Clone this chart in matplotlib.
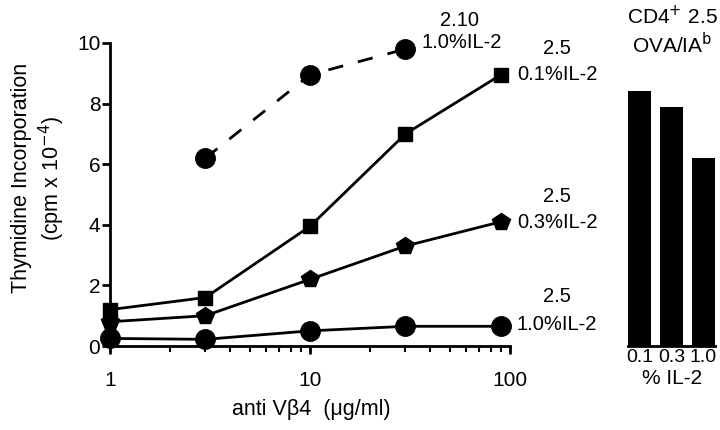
import matplotlib
matplotlib.use("Agg")
import matplotlib.pyplot as plt
from matplotlib.ticker import LogLocator, NullFormatter, FixedLocator

plt.rcParams['font.family'] = ['Liberation Sans', 'DejaVu Sans']

# data
dose = [1, 3, 10, 30, 90]
dose_210 = [3, 10, 30]
y_210_1p0 = [6.2, 8.95, 9.8]
y_25_0p1 = [1.2, 1.6, 3.95, 7.0, 8.95]
y_25_0p3 = [0.8, 1.0, 2.2, 3.3, 4.1]
y_25_1p0 = [0.25, 0.22, 0.5, 0.65, 0.65]
bar_labels = ['0.1', '0.3', '1.0']
bar_values = [8.4, 7.9, 6.2]

fig = plt.figure(figsize=(7.2, 4.3), dpi=100)
ax = fig.add_axes([110/720, 1-346/430, 400/720, 303/430])

lw = 2.0
ax.plot(dose_210, y_210_1p0, color='black', lw=lw, ls=(0, (5.5, 5.5)), marker='o', ms=14, clip_on=False)
ax.plot(dose, y_25_0p1, color='black', lw=lw, marker='s', ms=10, clip_on=False)
ax.plot(dose, y_25_0p3, color='black', lw=lw, marker='p', ms=13, clip_on=False)
ax.plot(dose, y_25_1p0, color='black', lw=lw, marker='o', ms=14, clip_on=False)

ax.set_xscale('log')
ax.set_xlim(1, 100)
ax.set_ylim(0, 10)
ax.set_yticks([0, 2, 4, 6, 8, 10])
ax.xaxis.set_major_locator(FixedLocator([1, 10, 100]))
ax.xaxis.set_minor_locator(LogLocator(base=10, subs=range(2, 10)))
ax.xaxis.set_minor_formatter(NullFormatter())
ax.set_xticklabels(['1', '10', '100'])
for s in ['top', 'right']:
    ax.spines[s].set_visible(False)
for s in ['left', 'bottom']:
    ax.spines[s].set_linewidth(2)
ax.tick_params(axis='both', which='major', labelsize=15, width=2, length=6, direction='out')
ax.tick_params(axis='x', which='minor', width=1.5, length=4)
ax.tick_params(axis='x', which='major', pad=12)
ax.tick_params(axis='y', pad=1)

fig.text(311/720, 1-410/430, 'anti V\u03b24  (\u03bcg/ml)', fontsize=15.5, ha='center', va='center')
fig.text(22/720, 1-178/430, 'Thymidine Incorporation', rotation=90, fontsize=15.5,
         ha='center', va='center')
fig.text(52/720, 1-178/430, '(cpm x 10$^{-4}$)', rotation=90, fontsize=15.5,
         ha='center', va='center')

def lab(x, y, s):
    fig.text(x/720, 1-y/430, s, fontsize=14.5, ha='center', va='center')

lab(460, 20, '2.10')
lab(462, 43, '1.0%IL-2')
lab(557, 48, '2.5')
lab(557, 75, '0.1%IL-2')
lab(557, 197, '2.5')
lab(557, 222, '0.3%IL-2')
lab(557, 297, '2.5')
lab(557, 325, '1.0%IL-2')

# bar panel
bx = fig.add_axes([628/720, 1-346/430, 87/720, 303/430])
pos = list(range(len(bar_values)))
bx.bar(pos, bar_values, width=0.72, color='black')
bx.set_xlim(-0.36, 2.36)
bx.set_ylim(0, 10)
bx.set_yticks([])
bx.set_xticks(pos)
bx.set_xticklabels(bar_labels, fontsize=14)
bx.tick_params(axis='x', length=0, pad=2)
for s in ['top', 'right', 'left']:
    bx.spines[s].set_visible(False)
bx.spines['bottom'].set_linewidth(2)
fig.text(672/720, 1-378/430, '% IL-2', fontsize=15, ha='center', va='center')
fig.text(672/720, 1-16/430, 'CD4$^{+}$ 2.5', fontsize=15, ha='center', va='center')
fig.text(672/720, 1-45/430, 'OVA/IA$^{\\rm b}$', fontsize=15, ha='center', va='center')

fig.savefig('out.png', dpi=100)
